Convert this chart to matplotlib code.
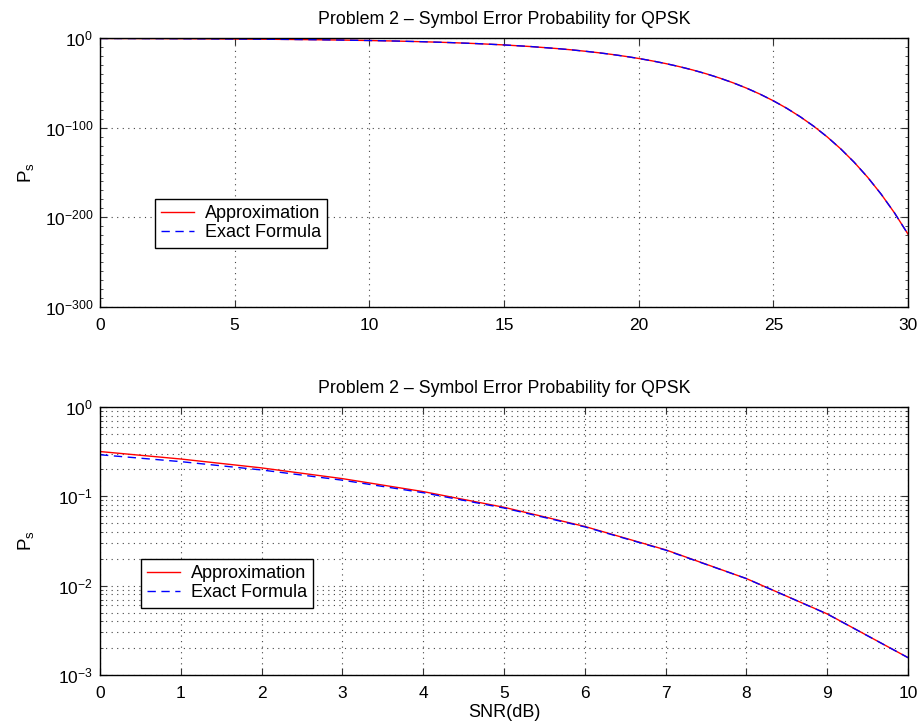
import matplotlib
matplotlib.use("Agg")
import matplotlib.pyplot as plt
import numpy as np
from matplotlib.ticker import FixedLocator, LogLocator, NullFormatter

plt.rcParams['font.family'] = ['Liberation Sans', 'DejaVu Sans']
plt.rcParams['mathtext.fontset'] = 'custom'
plt.rcParams['mathtext.rm'] = 'Liberation Sans'
plt.rcParams['mathtext.it'] = 'Liberation Sans'
plt.rcParams['mathtext.default'] = 'regular'

snr_db = [0, 1, 2, 3, 4, 5, 6, 7, 8, 9, 10, 11, 12, 13, 14, 15, 16, 17, 17.5, 18, 18.5,
          19, 19.5, 20, 20.5, 21, 21.5, 22, 22.5, 23, 23.5, 24, 24.5, 25, 25.5, 26, 26.5,
          27, 27.5, 28, 28.5, 29, 29.5, 30]
ps_approx = [0.3173, 0.2617, 0.2081, 0.1578, 0.1130, 0.0754, 0.0460, 0.0252, 0.0120,
             0.00483, 0.001565, 3.9e-4, 6.8e-5, 7.9e-6, 5.4e-7, 1.9e-8, 2.8e-10,
             1.4e-12, 6.4e-14, 1.9e-15, 4.0e-17, 5.0e-19, 3.7e-21, 1.5e-23, 3.2e-26,
             3.2e-29, 1.4e-32, 2.5e-36, 1.5e-40, 2.6e-45, 1.3e-50, 1.4e-56, 3.0e-63,
             9.5e-71, 3.8e-79, 1.4e-88, 3.8e-99, 5.2e-111, 2.6e-124, 3.1e-139, 5.6e-156,
             9.1e-175, 7.8e-196, 1.8e-219]
ps_exact = [0.2921, 0.2446, 0.1973, 0.1516, 0.1098, 0.0740, 0.0455, 0.0250, 0.0120,
            0.00482, 0.001564, 3.9e-4, 6.8e-5, 7.9e-6, 5.4e-7, 1.9e-8, 2.8e-10,
            1.4e-12, 6.4e-14, 1.9e-15, 4.0e-17, 5.0e-19, 3.7e-21, 1.5e-23, 3.2e-26,
            3.2e-29, 1.4e-32, 2.5e-36, 1.5e-40, 2.6e-45, 1.3e-50, 1.4e-56, 3.0e-63,
            9.5e-71, 3.8e-79, 1.4e-88, 3.8e-99, 5.2e-111, 2.6e-124, 3.1e-139, 5.6e-156,
            9.1e-175, 7.8e-196, 1.8e-219]

title = "Problem 2 \u2013 Symbol Error Probability for QPSK"
top_yticks = [1e-300, 1e-200, 1e-100, 1e0]
top_ylabels = ['$10^{-300}$', '$10^{-200}$', '$10^{-100}$', '$10^{0}$']
bot_yticks = [1e-3, 1e-2, 1e-1, 1e0]
bot_ylabels = ['$10^{-3}$', '$10^{-2}$', '$10^{-1}$', '$10^{0}$']

W, H = 922, 725
fig = plt.figure(figsize=(W / 100, H / 100), dpi=100)
ax1 = fig.add_axes([100 / W, 1 - 307 / H, 808 / W, 269 / H])
ax2 = fig.add_axes([100 / W, 1 - 675 / H, 808 / W, 268 / H])

fs = 12.5
grid_kw = dict(color='#444444', linestyle=(0, (1, 4)), linewidth=0.8)
leg_kw = dict(fontsize=13, fancybox=False, edgecolor='black', framealpha=1,
              borderpad=0.35, labelspacing=0.12, handlelength=1.8, handletextpad=0.6,
              borderaxespad=0)

def style(ax):
    ax.tick_params(which='both', direction='in', top=True, right=True,
                   labelsize=fs, color='#333333')
    ax.tick_params(which='major', length=5, width=0.8)
    ax.tick_params(axis='x', which='major', pad=8)
    ax.tick_params(axis='y', which='major', pad=5)
    ax.tick_params(which='minor', length=2.5, width=0.6)
    for s in ax.spines.values():
        s.set_linewidth(1.0)
    ax.set_title(title, fontsize=fs + 0.3, pad=10)
    ax.set_ylabel('$P_{s}$', fontsize=fs + 1)
    ax.yaxis.set_label_coords(-0.079, 0.5)

# Top plot
ax1.semilogy(snr_db, ps_approx, color='red', linewidth=1.0, label='Approximation')
ax1.semilogy(snr_db, ps_exact, color='blue', linewidth=1.0, linestyle=(0, (6, 4)),
             label='Exact Formula')
ax1.set_xlim(0, 30)
ax1.set_ylim(1e-300, 1e0)
ax1.set_xticks([0, 5, 10, 15, 20, 25, 30])
ax1.yaxis.set_major_locator(FixedLocator(top_yticks))
ax1.set_yticklabels(top_ylabels)
ax1.yaxis.set_minor_locator(FixedLocator([10.0 ** (-k) for k in range(10, 300, 10)]))
ax1.yaxis.set_minor_formatter(NullFormatter())
ax1.grid(True, which='major', **grid_kw)
style(ax1)
ax1.legend(loc='upper left', bbox_to_anchor=(55 / 808, 1 - (199 - 38) / 269), **leg_kw)

# Bottom plot
n = 11
ax2.semilogy(snr_db[:n], ps_approx[:n], color='red', linewidth=1.0, label='Approximation')
ax2.semilogy(snr_db[:n], ps_exact[:n], color='blue', linewidth=1.0,
             linestyle=(0, (6, 4)), label='Exact Formula')
ax2.set_xlim(0, 10)
ax2.set_ylim(1e-3, 1e0)
ax2.set_xticks(list(range(0, 11)))
ax2.yaxis.set_major_locator(FixedLocator(bot_yticks))
ax2.set_yticklabels(bot_ylabels)
ax2.yaxis.set_minor_locator(LogLocator(base=10, subs=np.arange(2, 10)))
ax2.yaxis.set_minor_formatter(NullFormatter())
ax2.grid(True, which='both', **grid_kw)
ax2.set_xlabel('SNR(dB)', fontsize=fs + 0.5, labelpad=2)
style(ax2)
ax2.legend(loc='upper left', bbox_to_anchor=(41 / 808, 1 - (559 - 407) / 268), **leg_kw)

fig.savefig('out.png', dpi=100)
